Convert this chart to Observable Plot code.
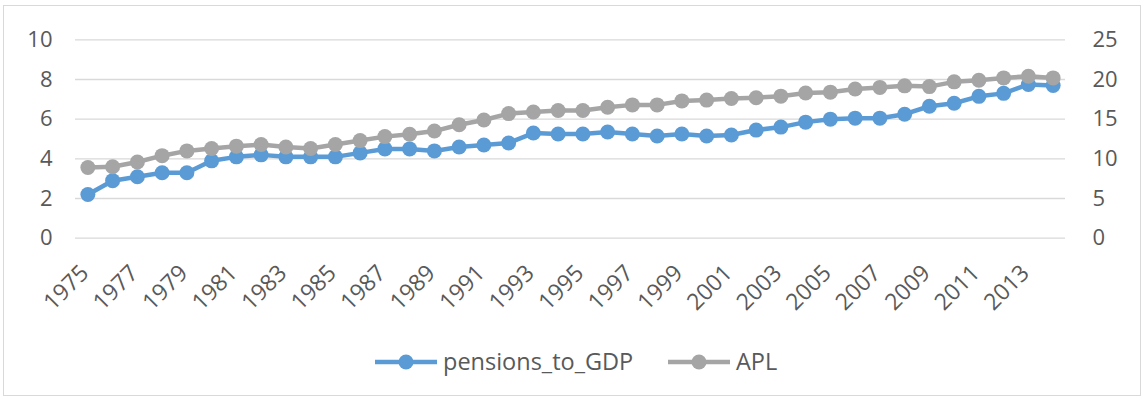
<!DOCTYPE html>
<html>
<head>
<meta charset="utf-8">
<script src="https://cdn.jsdelivr.net/npm/d3@7"></script>
<script src="https://cdn.jsdelivr.net/npm/@observablehq/plot@0.6"></script>
<style>
  body { margin: 0; background: #fff; }
  #wrap { position: relative; width: 1144px; height: 399px; overflow: hidden;
          font-family: "Open Sans", "Noto Sans", sans-serif; color: #595959; }
  #frame { position: absolute; left: 3px; top: 5px; width: 1138px; height: 391px;
           border: 1px solid #d9d9d9; box-sizing: border-box; pointer-events: none; }
  #chart { position: absolute; left: 0; top: 0; }
  #legend { position: absolute; left: 0; top: 335px; width: 1144px; height: 64px; }
  .item { position: absolute; top: 0; height: 54px; display: flex; align-items: center; }
  .item svg { display: block; }
  .item span { font-size: 23.5px; margin-left: 6px; line-height: 1; }
</style>
</head>
<body>
<div id="wrap">
  <div id="chart"></div>
  <div id="legend"></div>
  <div id="frame"></div>
</div>
<script>
// Years on the category axis
const years = [
  1975, 1976, 1977, 1978, 1979, 1980, 1981, 1982, 1983, 1984,
  1985, 1986, 1987, 1988, 1989, 1990, 1991, 1992, 1993, 1994,
  1995, 1996, 1997, 1998, 1999, 2000, 2001, 2002, 2003, 2004,
  2005, 2006, 2007, 2008, 2009, 2010, 2011, 2012, 2013, 2014
];

// Pension spending, % of GDP (left axis)
const pensionsToGDP = [
  2.2, 2.9, 3.1, 3.3, 3.3, 3.9, 4.1, 4.2, 4.1, 4.1,
  4.1, 4.3, 4.5, 4.5, 4.4, 4.6, 4.7, 4.8, 5.3, 5.25,
  5.25, 5.35, 5.25, 5.15, 5.25, 5.15, 5.2, 5.45, 5.6, 5.85,
  6.0, 6.05, 6.05, 6.25, 6.65, 6.8, 7.15, 7.3, 7.75, 7.7
];

// APL (right axis)
const apl = [
  8.9, 9.0, 9.6, 10.4, 11.0, 11.3, 11.6, 11.8, 11.5, 11.3,
  11.8, 12.3, 12.8, 13.1, 13.5, 14.3, 14.9, 15.7, 15.9, 16.1,
  16.1, 16.5, 16.8, 16.8, 17.3, 17.4, 17.6, 17.7, 17.9, 18.3,
  18.4, 18.8, 19.0, 19.2, 19.1, 19.7, 19.9, 20.2, 20.4, 20.2
];

const leftTicks = [0, 2, 4, 6, 8, 10];
const rightTicks = [0, 5, 10, 15, 20, 25];
const yearTicks = years.filter(y => y % 2 === 1);

const seriesNames = ["pensions_to_GDP", "APL"];
const seriesColors = ["#5B9BD5", "#A5A5A5"];

const rows = years.map((year, i) => ({year, pensions: pensionsToGDP[i], apl: apl[i]}));

// The secondary axis (0–25) shares the primary y scale (0–10)
const k = leftTicks[leftTicks.length - 1] / rightTicks[rightTicks.length - 1];

const W = 1144, H = 335;
const plotTop = 39.3, plotBottom = 237.7;

const chart = Plot.plot({
  width: W,
  height: H,
  marginLeft: 75,
  marginRight: 79,
  marginTop: plotTop,
  marginBottom: H - plotBottom,
  style: {fontFamily: '"Open Sans", "Noto Sans", sans-serif', fontSize: "22px", color: "#595959", background: "transparent"},
  x: {type: "point", domain: years, padding: 0.5, round: false},
  y: {domain: [0, 10]},
  marks: [
    Plot.gridY(leftTicks, {stroke: "#d9d9d9", strokeOpacity: 1, strokeWidth: 1.3}),
    Plot.axisY(leftTicks, {anchor: "left", tickSize: 0, tickPadding: 23, label: null, fontSize: 22, fill: "#595959"}),
    Plot.axisY(rightTicks.map(v => v * k), {
      anchor: "right", tickSize: 0, tickPadding: 27, label: null, fontSize: 22, fill: "#595959",
      tickFormat: v => String(Math.round(v / k))
    }),
    Plot.axisX(yearTicks, {
      anchor: "bottom", tickSize: 0, tickRotate: -45, tickPadding: 31, label: null,
      textAnchor: "end", lineAnchor: "middle", dx: -3, fontSize: 23, fill: "#595959",
      tickFormat: d => String(d)
    }),
    Plot.line(rows, {x: "year", y: "pensions", stroke: seriesColors[0], strokeWidth: 4.5}),
    Plot.dot(rows, {x: "year", y: "pensions", r: 7.5, fill: seriesColors[0]}),
    Plot.line(rows, {x: "year", y: d => d.apl * k, stroke: seriesColors[1], strokeWidth: 4.5}),
    Plot.dot(rows, {x: "year", y: d => d.apl * k, r: 7.5, fill: seriesColors[1]})
  ]
});
document.getElementById("chart").appendChild(chart);

// Legend: line-with-marker swatch followed by the series name
const legend = d3.select("#legend");
const itemLeft = [375, 668];
seriesNames.forEach((name, i) => {
  const item = legend.append("div").attr("class", "item").style("left", itemLeft[i] + "px");
  const sw = item.append("svg").attr("width", 62).attr("height", 18);
  sw.append("line").attr("x1", 0).attr("x2", 62).attr("y1", 9).attr("y2", 9)
    .attr("stroke", seriesColors[i]).attr("stroke-width", 4.5);
  sw.append("circle").attr("cx", 31).attr("cy", 9).attr("r", 7.5).attr("fill", seriesColors[i]);
  item.append("span").text(name);
});
</script>
</body>
</html>
